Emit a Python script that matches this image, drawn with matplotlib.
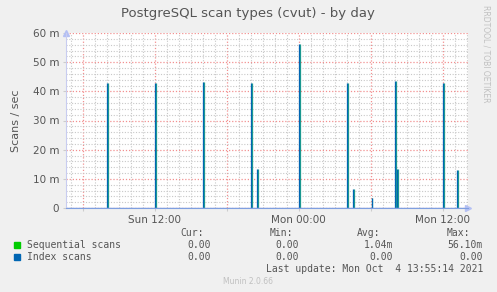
import numpy as np
import matplotlib
matplotlib.use("Agg")
import matplotlib.pyplot as plt

# ---- data (hours relative to Mon 00:00, values in milli-scans/sec) ----
spike_hours = [-16.0, -12.0, -8.0, -4.0, -3.5, 0.0, 4.0, 4.5, 6.08, 8.0, 8.17, 12.0, 13.17]
spike_peaks = [43.0, 43.0, 43.3, 43.0, 13.5, 56.1, 43.0, 6.5, 3.5, 43.5, 13.5, 43.0, 13.0]

x_start, x_end = -19.4, 14.1
tick_hours = [-18, -12, -6, 0, 6, 12]
tick_labels = ["", "Sun 12:00", "", "Mon 00:00", "", "Mon 12:00"]
y_ticks = [0, 10, 20, 30, 40, 50, 60]
y_labels = ["0", "10 m", "20 m", "30 m", "40 m", "50 m", "60 m"]

series_names = ["Sequential scans", "Index scans"]
series_colors = ["#00CC00", "#0066B3"]
cur_vals = ["0.00", "0.00"]
min_vals = ["0.00", "0.00"]
avg_vals = ["1.04m", "0.00"]
max_vals = ["56.10m", "0.00"]

W, H = 497, 292
bg = "#F0F0F0"
txt = "#555555"

fig = plt.figure(figsize=(W / 100, H / 100), dpi=100, facecolor=bg)
ax = fig.add_axes([66 / W, 1 - 208 / H, (468 - 66) / W, (208 - 33) / H])
ax.set_facecolor("white")

# spikes: teal-ish body with blue leading edge
ax.vlines(np.array(spike_hours) + 0.06, 0, spike_peaks, color="#20a08c", lw=0.9)
ax.vlines(spike_hours, 0, spike_peaks, color=series_colors[1], lw=0.9)
ax.axhline(0, color="#7f9fe0", lw=1.0)

ax.set_xlim(x_start, x_end)
ax.set_ylim(0, 60)

ax.set_xticks(tick_hours)
ax.set_xticklabels(tick_labels)
ax.set_xticks(np.arange(-19, 15, 1), minor=True)
ax.set_yticks(y_ticks)
ax.set_yticklabels(y_labels)
ax.set_yticks(np.arange(0, 61, 2), minor=True)

ax.grid(True, which="minor", color="#c8c8c8", linestyle=(0, (1, 1.5)), lw=0.8)
ax.grid(True, which="major", color="#f29090", linestyle=(0, (1, 1.5)), lw=0.9)
ax.set_axisbelow(True)

ax.tick_params(which="both", length=2, color="#cccccc", labelsize=7.5, labelcolor=txt, pad=3)
ax.tick_params(which="minor", length=0)

for s in ["top", "right"]:
    ax.spines[s].set_visible(False)
ax.spines["left"].set_color("#c8ccf0")
ax.spines["bottom"].set_color("#7f9fe0")

# axis arrows
ax.plot(1, 0, ">", transform=ax.transAxes, clip_on=False, color="#b4c0f4", ms=5)
ax.plot(0, 1, "^", transform=ax.transAxes, clip_on=False, color="#b4c0f4", ms=5)

ax.set_ylabel("Scans / sec", fontsize=8, color=txt, labelpad=8)

fig.text(248 / W, 1 - 14 / H, "PostgreSQL scan types (cvut) - by day",
         ha="center", va="center", fontsize=9.5, color=txt)
fig.text(486 / W, 1 - 5 / H, "RRDTOOL / TOBI OETIKER", rotation=-90,
         ha="center", va="top", fontsize=5.5, color="#c0c0c0")

# legend block
mono = dict(family="DejaVu Sans Mono", fontsize=7, color=txt, va="center")
cols = [211, 299, 393, 483]
heads = ["Cur:", "Min:", "Avg:", "Max:"]
head_x = [204, 293, 380, 470]
for hx, h in zip(head_x, heads):
    fig.text(hx / W, 1 - 233 / H, h, ha="right", **mono)

rows_y = [245, 257]
for i, name in enumerate(series_names):
    y = 1 - rows_y[i] / H
    fig.patches.append(plt.Rectangle((14 / W, y - 3 / H), 6 / W, 6 / H,
                                     transform=fig.transFigure, color=series_colors[i]))
    fig.text(27 / W, y, name, ha="left", **mono)
    for cx, v in zip(cols, [cur_vals[i], min_vals[i], avg_vals[i], max_vals[i]]):
        fig.text(cx / W, y, v, ha="right", **mono)

fig.text(483 / W, 1 - 269 / H, "Last update: Mon Oct  4 13:55:14 2021", ha="right", **mono)
fig.text(248 / W, 1 - 282 / H, "Munin 2.0.66", ha="center", va="center",
         fontsize=5.5, color="#c0c0c0")

fig.savefig("out.png", dpi=100, facecolor=bg)
